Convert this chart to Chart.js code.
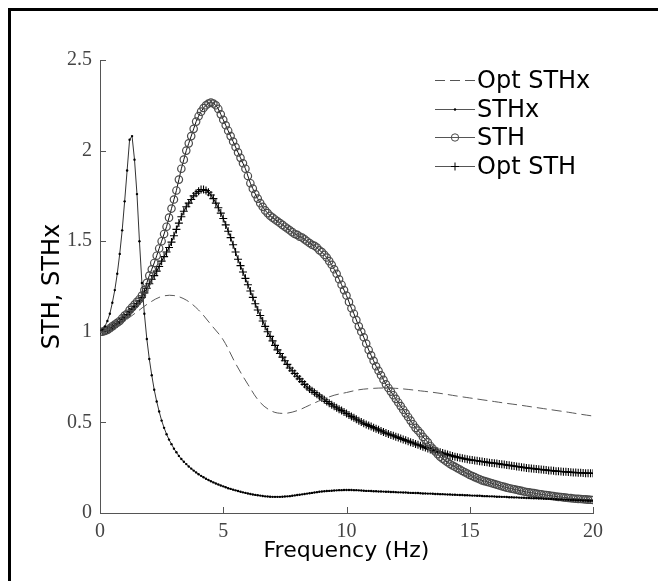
<!DOCTYPE html>
<html>
<head>
<meta charset="utf-8">
<script src="https://cdn.jsdelivr.net/npm/chart.js@4.4.1/dist/chart.umd.min.js"></script>
<style>
  html, body { margin: 0; padding: 0; background: #fff; }
  #wrap { width: 658px; height: 581px; }
</style>
</head>
<body>
<div id="wrap"><canvas id="chart" width="658" height="581"></canvas></div>
<script>
// frequency grid (Hz) shared by STH, Opt STH and STHx
const freq = [
  0, 0.1, 0.2, 0.3, 0.4, 0.5, 0.6, 0.7, 0.8, 0.9,
  1, 1.1, 1.2, 1.3, 1.4, 1.5, 1.6, 1.7, 1.8, 1.9,
  2, 2.1, 2.2, 2.3, 2.4, 2.5, 2.6, 2.7, 2.8, 2.9,
  3, 3.1, 3.2, 3.3, 3.4, 3.5, 3.6, 3.7, 3.8, 3.9,
  4, 4.1, 4.2, 4.3, 4.4, 4.5, 4.6, 4.7, 4.8, 4.9,
  5, 5.1, 5.2, 5.3, 5.4, 5.5, 5.6, 5.7, 5.8, 5.9,
  6, 6.1, 6.2, 6.3, 6.4, 6.5, 6.6, 6.7, 6.8, 6.9,
  7, 7.1, 7.2, 7.3, 7.4, 7.5, 7.6, 7.7, 7.8, 7.9,
  8, 8.1, 8.2, 8.3, 8.4, 8.5, 8.6, 8.7, 8.8, 8.9,
  9, 9.1, 9.2, 9.3, 9.4, 9.5, 9.6, 9.7, 9.8, 9.9,
  10, 10.1, 10.2, 10.3, 10.4, 10.5, 10.6, 10.7, 10.8, 10.9,
  11, 11.1, 11.2, 11.3, 11.4, 11.5, 11.6, 11.7, 11.8, 11.9,
  12, 12.1, 12.2, 12.3, 12.4, 12.5, 12.6, 12.7, 12.8, 12.9,
  13, 13.1, 13.2, 13.3, 13.4, 13.5, 13.6, 13.7, 13.8, 13.9,
  14, 14.1, 14.2, 14.3, 14.4, 14.5, 14.6, 14.7, 14.8, 14.9,
  15, 15.1, 15.2, 15.3, 15.4, 15.5, 15.6, 15.7, 15.8, 15.9,
  16, 16.1, 16.2, 16.3, 16.4, 16.5, 16.6, 16.7, 16.8, 16.9,
  17, 17.1, 17.2, 17.3, 17.4, 17.5, 17.6, 17.7, 17.8, 17.9,
  18, 18.1, 18.2, 18.3, 18.4, 18.5, 18.6, 18.7, 18.8, 18.9,
  19, 19.1, 19.2, 19.3, 19.4, 19.5, 19.6, 19.7, 19.8, 19.9,
  20
];

const sth = [
  1.00, 1.00, 1.005, 1.01, 1.02, 1.03, 1.04, 1.05, 1.06, 1.075,
  1.09, 1.10, 1.12, 1.135, 1.15, 1.165, 1.18, 1.20, 1.23, 1.27,
  1.31, 1.345, 1.38, 1.42, 1.46, 1.50, 1.54, 1.58, 1.63, 1.68,
  1.73, 1.78, 1.84, 1.90, 1.95, 2.00, 2.04, 2.08, 2.12, 2.16,
  2.19, 2.215, 2.235, 2.25, 2.26, 2.265, 2.26, 2.25, 2.23, 2.20,
  2.17, 2.14, 2.11, 2.08, 2.05, 2.02, 1.99, 1.96, 1.93, 1.90,
  1.86, 1.82, 1.79, 1.76, 1.735, 1.71, 1.69, 1.67, 1.655, 1.64,
  1.63, 1.62, 1.61, 1.60, 1.59, 1.58, 1.57, 1.56, 1.55, 1.54,
  1.535, 1.525, 1.52, 1.51, 1.50, 1.49, 1.48, 1.475, 1.465, 1.45,
  1.44, 1.425, 1.41, 1.39, 1.37, 1.345, 1.32, 1.29, 1.26, 1.23,
  1.20, 1.165, 1.13, 1.10, 1.065, 1.03, 1.00, 0.97, 0.935, 0.90,
  0.87, 0.84, 0.81, 0.785, 0.76, 0.735, 0.71, 0.69, 0.67, 0.65,
  0.63, 0.61, 0.59, 0.57, 0.55, 0.53, 0.51, 0.49, 0.47, 0.455,
  0.44, 0.42, 0.405, 0.39, 0.37, 0.355, 0.34, 0.325, 0.31, 0.30,
  0.29, 0.28, 0.27, 0.262, 0.255, 0.247, 0.24, 0.232, 0.225, 0.218,
  0.21, 0.204, 0.198, 0.192, 0.186, 0.18, 0.176, 0.172, 0.168, 0.164,
  0.16, 0.156, 0.152, 0.148, 0.144, 0.14, 0.137, 0.134, 0.131, 0.128,
  0.125, 0.122, 0.119, 0.116, 0.114, 0.112, 0.11, 0.107, 0.105, 0.103,
  0.101, 0.099, 0.097, 0.095, 0.093, 0.091, 0.089, 0.088, 0.086, 0.085,
  0.083, 0.082, 0.08, 0.079, 0.078, 0.077, 0.076, 0.075, 0.074, 0.073,
  0.072
];

const optSth = [
  1.00, 1.00, 1.005, 1.01, 1.015, 1.025, 1.035, 1.045, 1.055, 1.07,
  1.08, 1.095, 1.11, 1.125, 1.14, 1.155, 1.17, 1.19, 1.215, 1.24,
  1.265, 1.29, 1.31, 1.335, 1.36, 1.39, 1.415, 1.44, 1.465, 1.495,
  1.53, 1.565, 1.60, 1.635, 1.665, 1.69, 1.71, 1.73, 1.75, 1.765,
  1.775, 1.785, 1.785, 1.78, 1.77, 1.755, 1.735, 1.71, 1.685, 1.655,
  1.625, 1.59, 1.555, 1.52, 1.48, 1.44, 1.40, 1.365, 1.33, 1.295,
  1.26, 1.225, 1.19, 1.155, 1.12, 1.09, 1.06, 1.03, 1.00, 0.975,
  0.95, 0.925, 0.90, 0.88, 0.86, 0.84, 0.82, 0.80, 0.785, 0.77,
  0.755, 0.74, 0.725, 0.71, 0.695, 0.685, 0.675, 0.665, 0.655, 0.645,
  0.635, 0.625, 0.615, 0.605, 0.597, 0.589, 0.581, 0.573, 0.565, 0.557,
  0.549, 0.541, 0.533, 0.525, 0.517, 0.509, 0.502, 0.495, 0.489, 0.483,
  0.477, 0.471, 0.465, 0.459, 0.453, 0.447, 0.441, 0.436, 0.431, 0.426,
  0.421, 0.416, 0.411, 0.406, 0.401, 0.396, 0.391, 0.386, 0.381, 0.376,
  0.371, 0.366, 0.361, 0.356, 0.351, 0.347, 0.343, 0.339, 0.335, 0.331,
  0.327, 0.323, 0.319, 0.315, 0.311, 0.308, 0.305, 0.302, 0.299, 0.296,
  0.294, 0.292, 0.29, 0.288, 0.286, 0.284, 0.282, 0.28, 0.278, 0.276,
  0.275, 0.273, 0.271, 0.269, 0.267, 0.265, 0.263, 0.261, 0.259, 0.257,
  0.255, 0.253, 0.251, 0.249, 0.247, 0.246, 0.244, 0.243, 0.241, 0.24,
  0.238, 0.237, 0.235, 0.234, 0.233, 0.231, 0.23, 0.229, 0.228, 0.227,
  0.226, 0.225, 0.224, 0.223, 0.222, 0.222, 0.221, 0.22, 0.22, 0.219,
  0.219
];

const sthx = [
  1.00, 1.01, 1.03, 1.06, 1.10, 1.16, 1.23, 1.32, 1.43, 1.56,
  1.72, 1.89, 2.06, 2.08, 1.95, 1.76, 1.50, 1.27, 1.10, 0.96,
  0.85, 0.76, 0.68, 0.615, 0.56, 0.51, 0.47, 0.435, 0.405, 0.38,
  0.355, 0.335, 0.315, 0.298, 0.283, 0.27, 0.257, 0.245, 0.234, 0.224,
  0.214, 0.205, 0.197, 0.189, 0.182, 0.175, 0.169, 0.163, 0.157, 0.152,
  0.147, 0.142, 0.137, 0.133, 0.129, 0.125, 0.121, 0.117, 0.114, 0.111,
  0.108, 0.105, 0.102, 0.1, 0.098, 0.096, 0.094, 0.092, 0.091, 0.09,
  0.089, 0.089, 0.089, 0.089, 0.09, 0.091, 0.092, 0.093, 0.095, 0.097,
  0.099, 0.101, 0.103, 0.105, 0.107, 0.109, 0.111, 0.113, 0.115, 0.117,
  0.119, 0.12, 0.121, 0.122, 0.123, 0.124, 0.125, 0.126, 0.126, 0.127,
  0.127, 0.127, 0.127, 0.126, 0.126, 0.125, 0.124, 0.123, 0.122, 0.122,
  0.121, 0.12, 0.12, 0.119, 0.119, 0.118, 0.117, 0.117, 0.116, 0.116,
  0.115, 0.114, 0.114, 0.113, 0.113, 0.112, 0.111, 0.111, 0.11, 0.11,
  0.109, 0.108, 0.108, 0.107, 0.107, 0.106, 0.105, 0.105, 0.104, 0.104,
  0.103, 0.102, 0.102, 0.101, 0.101, 0.1, 0.099, 0.099, 0.098, 0.098,
  0.097, 0.096, 0.096, 0.095, 0.095, 0.094, 0.093, 0.093, 0.092, 0.092,
  0.091, 0.09, 0.09, 0.089, 0.089, 0.088, 0.087, 0.087, 0.086, 0.086,
  0.085, 0.084, 0.084, 0.083, 0.083, 0.082, 0.081, 0.081, 0.08, 0.08,
  0.079, 0.078, 0.078, 0.077, 0.077, 0.076, 0.075, 0.075, 0.074, 0.074,
  0.073, 0.072, 0.072, 0.071, 0.071, 0.07, 0.069, 0.069, 0.068, 0.068,
  0.067
];

// the dashed optimised STHx curve, read every 0.5 Hz
const optFreq = [
  0, 0.5, 1, 1.5, 2, 2.5, 3, 3.5, 4, 4.5,
  5, 5.5, 6, 6.5, 7, 7.5, 8, 8.5, 9, 9.5,
  10, 10.5, 11, 11.5, 12, 12.5, 13, 13.5, 14, 14.5,
  15, 15.5, 16, 16.5, 17, 17.5, 18, 18.5, 19, 19.5,
  20
];
const optSthx = [
  1.00, 1.02, 1.06, 1.11, 1.16, 1.195, 1.20, 1.175, 1.12, 1.04,
  0.955, 0.825, 0.71, 0.61, 0.56, 0.55, 0.565, 0.595, 0.625, 0.65,
  0.665, 0.68, 0.687, 0.69, 0.688, 0.682, 0.674, 0.666, 0.656, 0.645,
  0.635, 0.625, 0.615, 0.605, 0.596, 0.586, 0.576, 0.566, 0.556, 0.545,
  0.535
];

const labels = ['Opt STHx', 'STHx', 'STH', 'Opt STH'];

const pairs = (xs, ys) => xs.map((x, i) => ({x: x, y: ys[i]}));

// white page with the thick black frame on the left and top
const frame = {
  id: 'frame',
  beforeDraw(chart) {
    const ctx = chart.ctx;
    ctx.save();
    ctx.fillStyle = '#fff';
    ctx.fillRect(0, 0, chart.width, chart.height);
    ctx.strokeStyle = '#000';
    ctx.lineWidth = 3;
    ctx.beginPath();
    ctx.moveTo(9.5, chart.height);
    ctx.lineTo(9.5, 9.5);
    ctx.lineTo(chart.width, 9.5);
    ctx.stroke();
    ctx.restore();
  }
};

// tick marks point into the plot area
const innerTicks = {
  id: 'innerTicks',
  afterDraw(chart) {
    const ctx = chart.ctx;
    const a = chart.chartArea;
    const sx = chart.scales.x;
    const sy = chart.scales.y;
    ctx.save();
    ctx.strokeStyle = '#555';
    ctx.lineWidth = 1;
    ctx.beginPath();
    sx.ticks.forEach((t) =>
    {
      const p = Math.round(sx.getPixelForValue(t.value)) + 0.5;
      ctx.moveTo(p, a.bottom);
      ctx.lineTo(p, a.bottom - 6);
    });
    sy.ticks.forEach((t) =>
    {
      const p = Math.round(sy.getPixelForValue(t.value)) + 0.5;
      ctx.moveTo(a.left, p);
      ctx.lineTo(a.left + 6, p);
    });
    ctx.stroke();
    ctx.restore();
  }
};

// legend in the top right corner, drawn from the dataset styles
const cornerLegend = {
  id: 'cornerLegend',
  afterDraw(chart) {
    const ctx = chart.ctx;
    ctx.save();
    ctx.font = '24px "DejaVu Sans"';
    ctx.textBaseline = 'alphabetic';
    ctx.textAlign = 'left';
    chart.data.datasets.forEach((ds, i) =>
    {
      const base = 88 + i * 28.5;
      const ly = Math.round(base - 8) + 0.5;
      ctx.strokeStyle = '#555';
      ctx.lineWidth = 1;
      ctx.setLineDash(ds.borderDash || []);
      ctx.beginPath();
      ctx.moveTo(435, ly);
      ctx.lineTo(475, ly);
      ctx.stroke();
      ctx.setLineDash([]);
      if (ds.pointRadius > 0)
      {
        ctx.strokeStyle = ds.pointBorderColor;
        ctx.fillStyle = ds.pointBackgroundColor;
        Chart.helpers.drawPoint(ctx, {
          pointStyle: ds.pointStyle,
          radius: ds.pointRadius,
          borderWidth: ds.pointBorderWidth,
          rotation: 0
        }, 455, ly);
      }
      ctx.fillStyle = '#000';
      ctx.fillText(ds.label, 477, base);
    });
    ctx.restore();
  }
};

// "2", "1.5", "1" rather than "2.0", "1.5", "1.0"
const plainTick = (v) => String(v);

new Chart(document.getElementById('chart'), {
  type: 'line',
  data: {
    datasets: [
      {
        label: labels[0],
        data: pairs(optFreq, optSthx),
        borderColor: '#5a5a5a',
        borderWidth: 1,
        borderDash: [10, 5],
        pointRadius: 0,
        tension: 0.35
      },
      {
        label: labels[1],
        data: pairs(freq, sthx),
        borderColor: '#333',
        borderWidth: 1,
        pointStyle: 'circle',
        pointRadius: 1.2,
        pointBackgroundColor: '#000',
        pointBorderColor: '#000',
        pointBorderWidth: 0,
        tension: 0
      },
      {
        label: labels[2],
        data: pairs(freq, sth),
        borderColor: '#111',
        borderWidth: 1,
        pointStyle: 'circle',
        pointRadius: 3.7,
        pointBackgroundColor: 'rgba(0,0,0,0)',
        pointBorderColor: '#4a4a4a',
        pointBorderWidth: 1.2,
        tension: 0
      },
      {
        label: labels[3],
        data: pairs(freq, optSth),
        borderColor: '#000',
        borderWidth: 1,
        pointStyle: 'cross',
        pointRadius: 4,
        pointBackgroundColor: '#000',
        pointBorderColor: '#000',
        pointBorderWidth: 1.1,
        tension: 0
      }
    ]
  },
  options: {
    responsive: false,
    animation: false,
    devicePixelRatio: 1,
    layout: {padding: {top: 60, right: 65, bottom: 0, left: 0}},
    plugins: {legend: {display: false}, tooltip: {enabled: false}},
    scales: {
      x: {
        type: 'linear',
        min: 0,
        max: 20,
        grid: {display: false, drawTicks: false},
        border: {display: true, color: '#555', width: 1},
        ticks: {stepSize: 5, color: '#444', padding: 7, callback: plainTick, font: {family: '"Liberation Serif"', size: 20}},
        title: {display: true, text: 'Frequency (Hz)', color: '#000', font: {family: '"DejaVu Sans"', size: 22}, padding: {top: 0, bottom: 17}},
        afterFit: (s) => { s.height = 68; }
      },
      y: {
        type: 'linear',
        min: 0,
        max: 2.5,
        grid: {display: false, drawTicks: false},
        border: {display: true, color: '#555', width: 1},
        ticks: {stepSize: 0.5, color: '#444', padding: 8, callback: plainTick, font: {family: '"Liberation Serif"', size: 20}},
        title: {display: true, text: 'STH, STHx', color: '#000', font: {family: '"DejaVu Sans"', size: 24}, padding: {top: 38, bottom: 0}},
        afterFit: (s) => { s.width = 100; }
      }
    }
  },
  plugins: [frame, innerTicks, cornerLegend]
});
</script>
</body>
</html>
